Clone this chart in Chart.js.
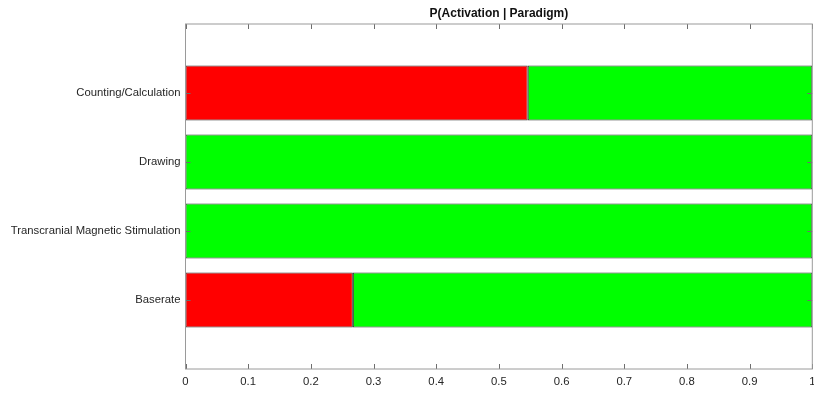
<!DOCTYPE html>
<html>
<head>
<meta charset="utf-8">
<script src="https://cdn.jsdelivr.net/npm/chart.js@4/dist/chart.umd.min.js"></script>
<style>
  html, body { margin: 0; padding: 0; background: #fff; }
  #wrap { width: 814px; height: 393px; }
</style>
</head>
<body>
<div id="wrap"><canvas id="myChart"></canvas></div>
<script>
// data
var categories = ['Counting/Calculation', 'Drawing', 'Transcranial Magnetic Stimulation', 'Baserate'];
var redValues = [0.546, 0, 0, 0.267];
var greenValues = [0.454, 1, 1, 0.733];
var xTicks = [0, 0.1, 0.2, 0.3, 0.4, 0.5, 0.6, 0.7, 0.8, 0.9, 1];
var xTickLabels = ['0', '0.1', '0.2', '0.3', '0.4', '0.5', '0.6', '0.7', '0.8', '0.9', '1'];
var title = 'P(Activation | Paradigm)';

// blank slots above and below give the matlab style margin
var labels = [''].concat(categories, ['']);
function pad(arr) { return [null].concat(arr, [null]); }

var fontFamily = '"Liberation Sans", Arial, Helvetica, sans-serif';

// matlab style box, inward ticks on all four sides, title over the plot
var boxPlugin = {
  id: 'box',
  afterDraw: function(chart) {
    var ctx = chart.ctx, a = chart.chartArea;
    var xs = chart.scales.x, ys = chart.scales.y;
    ctx.save();
    ctx.strokeStyle = '#6e6e6e';
    ctx.lineWidth = 1;
    ctx.beginPath();
    xTicks.forEach(function(v) {
      var px = Math.round(xs.getPixelForValue(v)) + 0.5;
      ctx.moveTo(px, a.bottom); ctx.lineTo(px, a.bottom - 5);
      ctx.moveTo(px, a.top); ctx.lineTo(px, a.top + 5);
    });
    categories.forEach(function(c, i) {
      var py = Math.round(ys.getPixelForValue(i + 1)) + 0.5;
      ctx.moveTo(a.left, py); ctx.lineTo(a.left + 5, py);
      ctx.moveTo(a.right, py); ctx.lineTo(a.right - 5, py);
    });
    ctx.stroke();
    ctx.strokeStyle = '#9a9a9a';
    ctx.strokeRect(a.left, a.top, a.right - a.left, a.bottom - a.top);
    ctx.fillStyle = '#111';
    ctx.font = 'bold 12px ' + fontFamily;
    ctx.textAlign = 'center';
    ctx.textBaseline = 'middle';
    ctx.fillText(title, (a.left + a.right) / 2, 14);
    ctx.restore();
  }
};

var ctx = document.getElementById('myChart').getContext('2d');
var myChart = new Chart(ctx, {
  type: 'bar',
  data: {
    labels: labels,
    datasets: [{
      data: pad(redValues),
      backgroundColor: '#ff0000',
      borderColor: '#333',
      borderWidth: 1,
      borderSkipped: false,
      categoryPercentage: 0.8,
      barPercentage: 1
    }, {
      data: pad(greenValues),
      backgroundColor: '#00ff00',
      borderColor: '#333',
      borderWidth: 1,
      borderSkipped: false,
      categoryPercentage: 0.8,
      barPercentage: 1
    }]
  },
  options: {
    indexAxis: 'y',
    responsive: true,
    maintainAspectRatio: false,
    animation: { duration: 0 },
    layout: { padding: { top: 24, right: 1.7, left: 0, bottom: 0 } },
    plugins: {
      legend: { display: false },
      tooltip: { enabled: false },
      title: { display: false }
    },
    scales: {
      x: {
        stacked: true,
        min: 0,
        max: 1,
        afterBuildTicks: function(scale) {
          scale.ticks = xTicks.map(function(v) { return { value: v }; });
        },
        afterFit: function(scale) {
          scale.height = 24;
          scale.paddingLeft = 0;
          scale.paddingRight = 0;
        },
        grid: { display: false, drawTicks: false },
        border: { display: false },
        ticks: {
          padding: 6,
          maxRotation: 0,
          color: '#262626',
          font: { family: fontFamily, size: 11.3 },
          callback: function(v, i) { return xTickLabels[i]; }
        }
      },
      y: {
        stacked: true,
        offset: false,
        afterFit: function(scale) {
          scale.width = 185.5;
          scale.paddingTop = 0;
          scale.paddingBottom = 0;
        },
        grid: { display: false, drawTicks: false },
        border: { display: false },
        ticks: {
          autoSkip: false,
          padding: 5,
          color: '#262626',
          font: { family: fontFamily, size: 11.3 }
        }
      }
    }
  },
  plugins: [boxPlugin]
});
</script>
</body>
</html>
